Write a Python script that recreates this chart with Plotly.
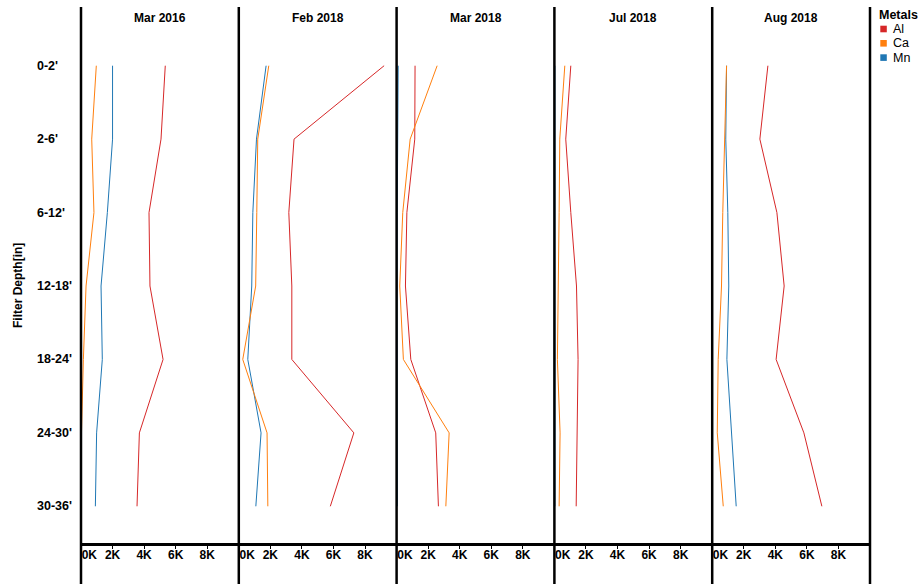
import plotly.graph_objects as go

# ---- data ---------------------------------------------------------------
DEPTHS = ["0-2'", "2-6'", "6-12'", "12-18'", "18-24'", "24-30'", "30-36'"]
DATES = ["Mar 2016", "Feb 2018", "Mar 2018", "Jul 2018", "Aug 2018"]
METALS = ["Al", "Ca", "Mn"]
METAL_COLORS = ["#d62728", "#ff7f0e", "#1f77b4"]

AL_MAR16 = [5340, 5070, 4310, 4370, 5200, 3700, 3550]
CA_MAR16 = [970, 680, 820, 320, 150, 30, 0]
MN_MAR16 = [2000, 2000, 1670, 1270, 1350, 990, 910]

AL_FEB18 = [9210, 3500, 3170, 3360, 3360, 7290, 5800]
CA_FEB18 = [1900, 1200, 1140, 1070, 250, 1790, 1840]
MN_FEB18 = [1730, 1120, 890, 820, 570, 1410, 1080]

AL_MAR18 = [1170, 1150, 650, 560, 900, 2480, 2650]
CA_MAR18 = [2570, 860, 390, 200, 430, 3330, 3120]
MN_MAR18 = [100, 60, 40, 30, 40, 60, 50]

AL_JUL18 = [1040, 720, 1040, 1400, 1500, 1420, 1380]
CA_JUL18 = [660, 340, 300, 250, 190, 360, 300]
MN_JUL18 = [30, 20, 20, 20, 20, 30, 30]

AL_AUG18 = [3530, 3020, 4100, 4560, 4050, 5810, 6950]
CA_AUG18 = [910, 780, 670, 590, 380, 320, 700]
MN_AUG18 = [910, 860, 990, 1050, 930, 1240, 1520]

X_TICKS = [0, 2000, 4000, 6000, 8000]
X_TICK_LABELS = ["0K", "2K", "4K", "6K", "8K"]
X_MAX = 10000

SERIES = {
    "Mar 2016": [AL_MAR16, CA_MAR16, MN_MAR16],
    "Feb 2018": [AL_FEB18, CA_FEB18, MN_FEB18],
    "Mar 2018": [AL_MAR18, CA_MAR18, MN_MAR18],
    "Jul 2018": [AL_JUL18, CA_JUL18, MN_JUL18],
    "Aug 2018": [AL_AUG18, CA_AUG18, MN_AUG18],
}
# drawing order: Al first, then Mn, with Ca on top
DRAW_ORDER = [0, 2, 1]

# ---- geometry -----------------------------------------------------------
W, H = 919, 584
ML, MR, MT, MB = 81, 49, 29, 41
PW, PH = W - ML - MR, H - MT - MB
FONT = "Liberation Sans, Arial, Helvetica, sans-serif"


def px_x(px):
    return (px - ML) / PW


def px_y(py):
    return (H - MB - py) / PH


n = len(DATES)
fig = go.Figure()
layout = dict(
    width=W, height=H,
    margin=dict(l=ML, r=MR, t=MT, b=MB, pad=0),
    paper_bgcolor="white", plot_bgcolor="white",
    showlegend=False,
    font=dict(family=FONT, color="black", size=12),
)

annotations = []
shapes = []

# the first tick label is nudged right so it sits inside its panel
tick_text = ["\u00a0" * 5 + X_TICK_LABELS[0]] + X_TICK_LABELS[1:]

for i, date in enumerate(DATES):
    ax = "" if i == 0 else str(i + 1)
    layout["xaxis" + ax] = dict(
        domain=[i / n, (i + 1) / n],
        range=[0, X_MAX],
        anchor="y",
        showgrid=False, zeroline=False,
        showline=True, linecolor="black", linewidth=2.5,
        ticks="outside", ticklen=3, tickwidth=1, tickcolor="black",
        ticklabelstandoff=-4,
        tickvals=X_TICKS, ticktext=tick_text,
        tickfont=dict(family=FONT, size=12, color="black", weight="bold"),
        fixedrange=True,
    )
    vals_by_metal = SERIES[date]
    for m in DRAW_ORDER:
        fig.add_trace(go.Scatter(
            x=vals_by_metal[m], y=DEPTHS, mode="lines", name=METALS[m],
            line=dict(color=METAL_COLORS[m], width=1),
            xaxis="x" + ax, yaxis="y",
        ))
    # panel header
    annotations.append(dict(
        text="<b>%s</b>" % date, xref="x%s domain" % ax, x=0.5,
        yref="paper", y=px_y(17.5), yanchor="middle", xanchor="center",
        showarrow=False, font=dict(family=FONT, size=12, color="black"),
    ))

# panel borders
for i in range(n + 1):
    shapes.append(dict(
        type="line", xref="paper", yref="paper",
        x0=i / n, x1=i / n, y0=px_y(600), y1=px_y(7),
        line=dict(color="black", width=2.5), layer="above",
    ))

layout["yaxis"] = dict(
    type="category", categoryarray=DEPTHS,
    range=[len(DEPTHS) - 0.5, -0.5],
    showgrid=False, zeroline=False, showline=False,
    showticklabels=False, ticks="", fixedrange=True,
)

# depth labels, left aligned
for d in DEPTHS:
    annotations.append(dict(
        text="<b>%s</b>" % d, xref="paper", x=px_x(34.5), xanchor="left",
        yref="y", y=d, yanchor="middle", showarrow=False,
        font=dict(family=FONT, size=12.5, color="black"),
    ))

annotations.append(dict(
    text="<b>Filter Depth[in]</b>", textangle=-90,
    xref="paper", x=px_x(18), xanchor="center",
    yref="paper", y=0.5, yanchor="middle", showarrow=False,
    font=dict(family=FONT, size=12, color="black"),
))

# legend
annotations.append(dict(
    text="<b>Metals</b>", xref="paper", x=px_x(877), xanchor="left",
    yref="paper", y=px_y(15), yanchor="middle", showarrow=False,
    font=dict(family=FONT, size=12.5, color="black"),
))
for k, (metal, color) in enumerate(zip(METALS, METAL_COLORS)):
    cy = 29 + k * 14.3
    shapes.append(dict(
        type="rect", xref="paper", yref="paper",
        x0=px_x(880.3), x1=px_x(886.8), y0=px_y(cy - 3.3), y1=px_y(cy + 3.3),
        fillcolor=color, line=dict(width=0), layer="above",
    ))
    annotations.append(dict(
        text=metal, xref="paper", x=px_x(890.5), xanchor="left",
        yref="paper", y=px_y(cy), yanchor="middle", showarrow=False,
        font=dict(family=FONT, size=12.5, color="black"),
    ))

layout["annotations"] = annotations
layout["shapes"] = shapes
fig.update_layout(**layout)

fig.write_html("out.html")
